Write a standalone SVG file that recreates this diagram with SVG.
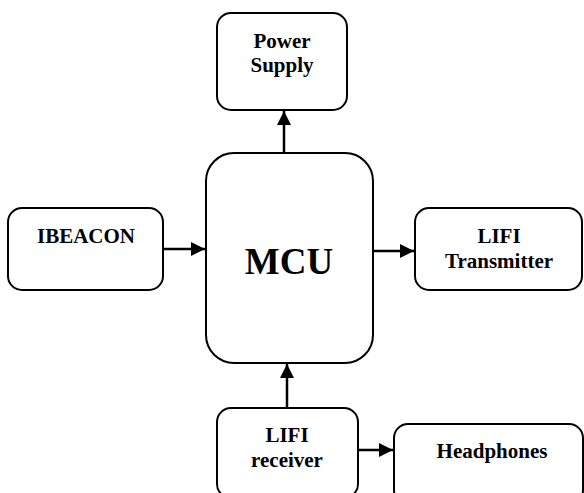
<svg xmlns="http://www.w3.org/2000/svg" width="584" height="493" viewBox="0 0 584 493">
<defs>
<marker id="ah" viewBox="0 0 10 10" refX="10" refY="5" markerWidth="16" markerHeight="14" markerUnits="userSpaceOnUse" orient="auto">
<path d="M0,0 L10,5 L0,10 Z" fill="#000"/>
</marker>
<style>
.box{fill:#fff;stroke:#000;stroke-width:2}
.t{font-family:"Liberation Serif","Times New Roman",serif;font-weight:bold;font-size:21px;text-anchor:middle;fill:#000}
.big{font-size:37px}
.c{stroke:#000;stroke-width:2.5;fill:none}
</style>
</defs>
<rect width="584" height="493" fill="#fff"/>
<g id="power">
<rect class="box" x="217" y="13" width="130" height="97" rx="14"/>
<text class="t" x="282" y="48">Power</text>
<text class="t" x="282" y="72">Supply</text>
</g>
<g id="mcu">
<rect class="box" x="206" y="153" width="167" height="210" rx="28"/>
<text class="t big" x="289" y="274">MCU</text>
</g>
<g id="ibeacon">
<rect class="box" x="8" y="208" width="155" height="82" rx="14"/>
<text class="t" x="86" y="243">IBEACON</text>
</g>
<g id="transmitter">
<rect class="box" x="415" y="208" width="167" height="82" rx="14"/>
<text class="t" x="499" y="243">LIFI</text>
<text class="t" x="499" y="268">Transmitter</text>
</g>
<g id="receiver">
<rect class="box" x="217" y="408" width="141" height="90" rx="14"/>
<text class="t" x="287" y="442">LIFI</text>
<text class="t" x="287" y="467">receiver</text>
</g>
<g id="headphones">
<rect class="box" x="394" y="424" width="189" height="80" rx="14"/>
<text class="t" x="492" y="458">Headphones</text>
</g>
<g id="connectors">
<line class="c" x1="284" y1="153" x2="284" y2="111" marker-end="url(#ah)"/>
<line class="c" x1="163" y1="249" x2="205" y2="249" marker-end="url(#ah)"/>
<line class="c" x1="373" y1="251" x2="414" y2="251" marker-end="url(#ah)"/>
<line class="c" x1="287" y1="408" x2="287" y2="364" marker-end="url(#ah)"/>
<line class="c" x1="358" y1="450" x2="393" y2="450" marker-end="url(#ah)"/>
</g>
</svg>
